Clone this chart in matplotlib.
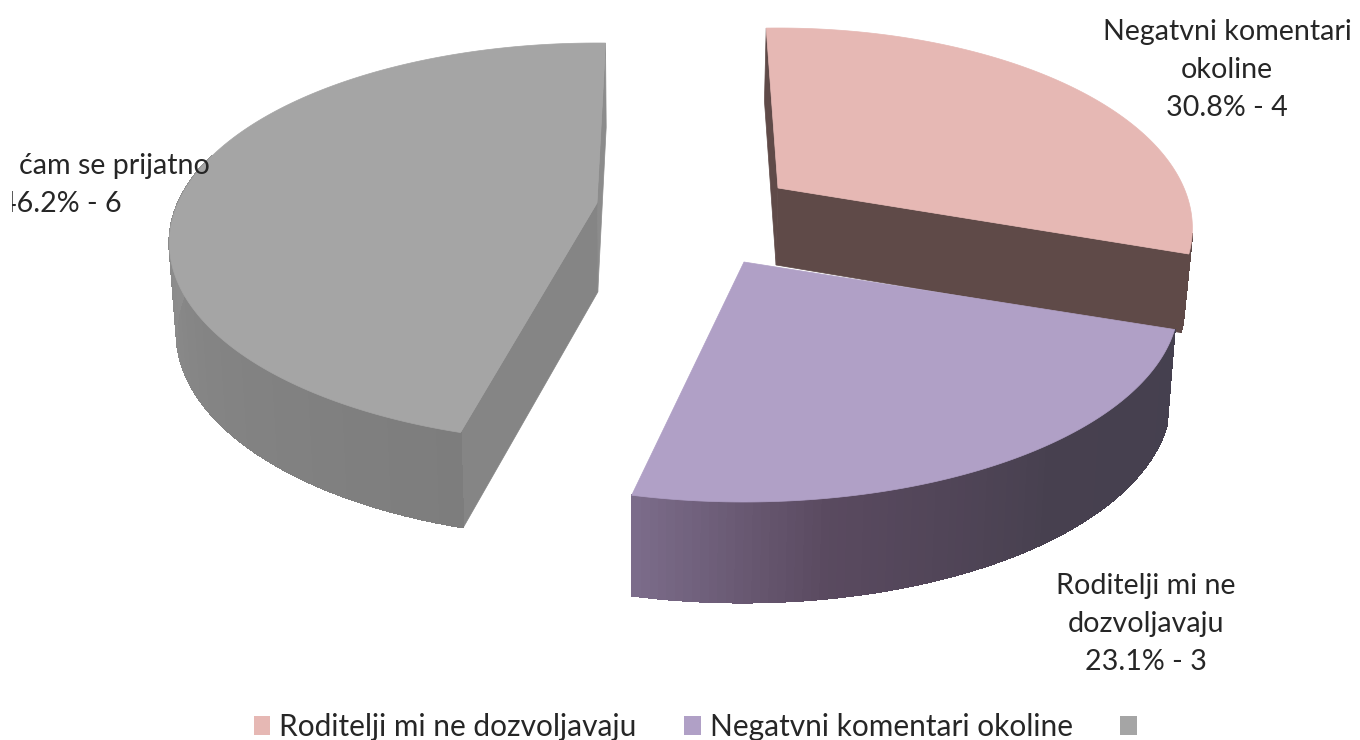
import numpy as np
import matplotlib
matplotlib.use('Agg')
import matplotlib.pyplot as plt
from matplotlib.colors import to_rgb
from matplotlib.patches import Patch, Polygon, Rectangle

plt.rcParams['font.family'] = ['Lato', 'DejaVu Sans']

categories = ['Negatvni komentari okoline', 'Roditelji mi ne dozvoljavaju', 'ćam se prijatno']
values = np.array([4, 3, 6])
legend_labels = ['Roditelji mi ne dozvoljavaju', 'Negatvni komentari okoline', '']
legend_colors = ['#E6B8B4', '#B0A0C6', '#A5A5A5']

# pseudo 3d pie: every slice has its own apex (exploded) and a small rotation
APEX = [(778, 188), (744, 262), (597, 203)]
RX = [406, 426, 419]
ROT = [-2, -1.6, 1.4]
TOP = ['#E6B8B4', '#B0A0C6', '#A5A5A5']
SIDE = ['#5F4A48', '#4A4152', '#858585']
HEIGHT = [77, 94, 89]
B, K, P = 192, 0.2, 0.3
VX, SHRINK = 650, 0.985


def project(i, deg, bottom=False):
    """Disk angle (clockwise from 12 o'clock) to picture pixels."""
    a = np.radians(deg)
    w = 1 + K * np.cos(a)
    x = APEX[i][0] + RX[i] * np.sin(a) / w
    y = APEX[i][1] - B * np.cos(a) / w
    if bottom:
        x = VX + (x - VX) * SHRINK
        y = y + HEIGHT[i] / w**P
    return np.column_stack([x, y])


def apex_bottom(i):
    x, y = APEX[i]
    return [VX + (x - VX) * SHRINK, y + HEIGHT[i]]


def radial_face(ax, i, deg, color):
    pts = [APEX[i], project(i, deg)[0], project(i, deg, True)[0], apex_bottom(i)]
    ax.add_patch(Polygon(pts, closed=True, fc=color, ec=color, lw=0.5))


def outer_wall(ax, i, d0, d1, stops, colors):
    d = np.linspace(d0, d1, 90)
    top, bot = project(i, d), project(i, d, True)
    rgb = np.array([to_rgb(c) for c in colors])
    for j in range(len(d) - 1):
        f = j / (len(d) - 2)
        col = [np.interp(f, stops, rgb[:, n]) for n in range(3)]
        pts = [top[j], top[j + 1], bot[j + 1], bot[j]]
        ax.add_patch(Polygon(pts, closed=True, fc=col, ec=col, lw=0.8, antialiased=False))


def top_face(ax, i, d0, d1):
    d = np.linspace(d0, d1, 200)
    pts = np.vstack([[APEX[i]], project(i, d)])
    ax.add_patch(Polygon(pts, closed=True, fc=TOP[i], ec=TOP[i], lw=0.5))


fig = plt.figure(figsize=(13.6, 7.4), dpi=100)
ax = fig.add_axes([0, 0, 1, 1])
ax.set_xlim(0, 1360)
ax.set_ylim(740, 0)
ax.axis('off')

pct = values / values.sum() * 100
edges = np.concatenate([[0], np.cumsum(values / values.sum() * 360)])
start = edges[:-1] + np.array(ROT)
end = edges[1:] + np.array(ROT)

# grey slice
radial_face(ax, 2, end[2], '#8C8C8C')
radial_face(ax, 2, start[2], SIDE[2])
outer_wall(ax, 2, start[2], 285, [0, 0.45, 1], ['#7D7D7D', '#848484', '#929292'])
top_face(ax, 2, start[2], end[2])

# pink slice
radial_face(ax, 0, start[0], SIDE[0])
radial_face(ax, 0, end[0], SIDE[0])
outer_wall(ax, 0, 103, end[0], [0, 1], [SIDE[0], SIDE[0]])
top_face(ax, 0, start[0], end[0])

# purple slice
outer_wall(ax, 1, start[1], end[1], [0, 0.4, 0.75, 1],
           ['#45404F', '#47404F', '#5A4A60', '#7B6C8A'])
top_face(ax, 1, start[1], end[1])

ax.text(1227, 70, f'Negatvni komentari\nokoline\n{pct[0]:.1f}% - {values[0]}', ha='center', va='center',
        fontsize=20.6, color='#262626', linespacing=1.55)
ax.text(1146, 624, f'Roditelji mi ne\ndozvoljavaju\n{pct[1]:.1f}% - {values[1]}', ha='center', va='center',
        fontsize=20.6, color='#262626', linespacing=1.55)

clip = Rectangle((12, 0), 1348, 740, transform=ax.transData)
ax.text(210, 166, categories[2], ha='right', va='center', fontsize=20.6, color='#262626')
t = ax.text(122, 204, f'{pct[2]:.1f}% - {values[2]}', ha='right', va='center', fontsize=20.6,
            color='#262626')
t.set_clip_path(clip)
t.set_clip_on(True)

handles = [Patch(fc=c, ec='none') for c in legend_colors]
ax.legend(handles, legend_labels, ncol=3, frameon=False, loc='center', bbox_to_anchor=(0.5145, 0.0175),
          fontsize=21.5, handlelength=0.55, handleheight=0.6, handletextpad=0.3, columnspacing=1.6,
          labelcolor='#262626', borderpad=0, borderaxespad=0)

fig.savefig('out.png', dpi=100)
